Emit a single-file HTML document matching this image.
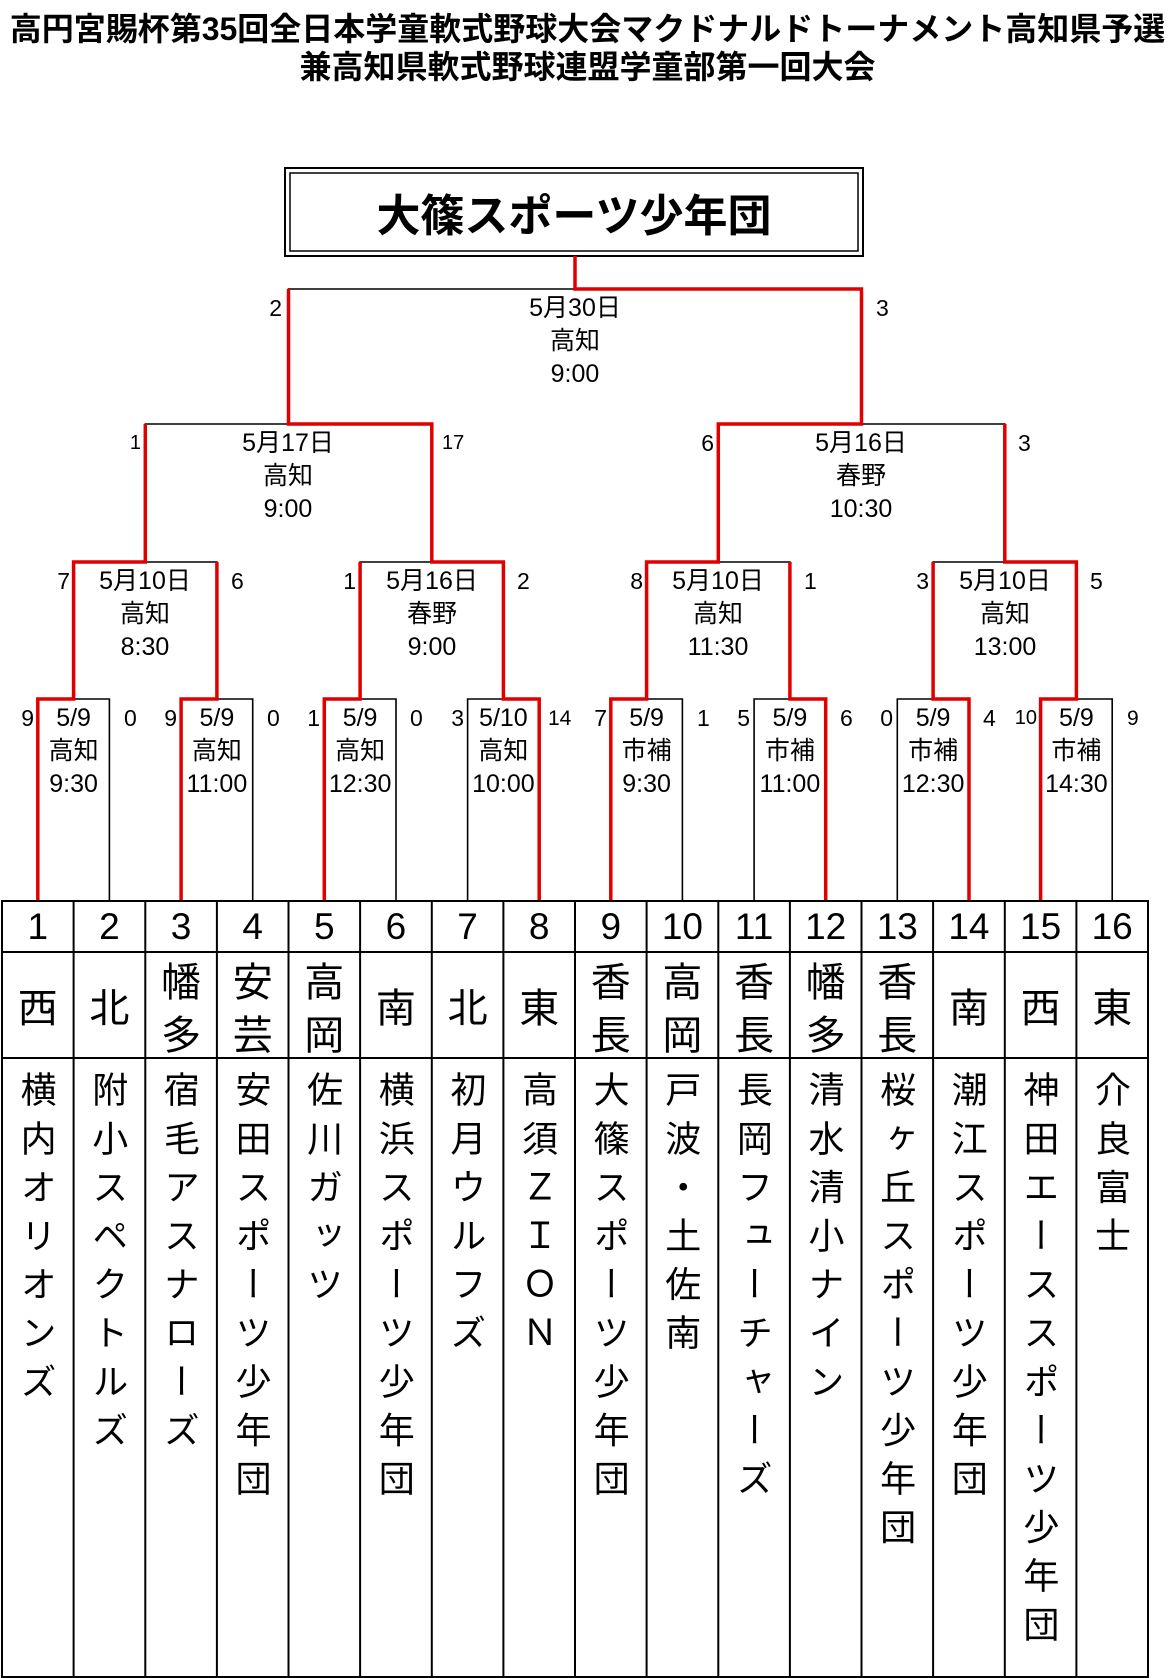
<!DOCTYPE html>
<html><head><meta charset="utf-8">
<style>
html,body{margin:0;padding:0;background:#fff;}
body{width:1175px;height:1678px;position:relative;overflow:hidden;font-family:"Liberation Sans","Noto Sans CJK JP",sans-serif;color:#000;}
.a{position:absolute;white-space:nowrap;}
.title{left:0;width:1175px;text-align:center;font-weight:bold;font-family:"Liberation Sans","Noto Sans CJK JP",sans-serif;}
.m{position:absolute;width:140px;text-align:center;font-size:25px;line-height:33px;white-space:nowrap;}
.sl{position:absolute;width:40px;text-align:right;font-size:23px;line-height:33px;}
.sr{position:absolute;width:40px;text-align:left;font-size:23px;line-height:33px;}
.num{position:absolute;top:901px;width:71.6px;height:51px;line-height:51px;text-align:center;font-size:37px;}
.reg{position:absolute;width:71.6px;text-align:center;font-size:40px;font-family:"Noto Sans CJK JP",sans-serif;}
.tm{position:absolute;top:1071px;width:71.6px;height:600px;writing-mode:vertical-rl;text-orientation:upright;font-size:36px;letter-spacing:12.6px;line-height:71.6px;font-family:"Noto Sans CJK JP",sans-serif;}
</style></head><body>

<div class="a title" style="top:8px;font-size:32px;line-height:42px;">高円宮賜杯第35回全日本学童軟式野球大会マクドナルドトーナメント高知県予選</div>
<div class="a title" style="top:46px;font-size:32px;line-height:42px;">兼高知県軟式野球連盟学童部第一回大会</div>

<svg class="a" style="left:0;top:0" width="1175" height="1678" viewBox="0 0 1175 1678">
<g fill="none" stroke="#000" stroke-width="2">
<rect x="285" y="168" width="578" height="88" stroke-width="2"/>
<rect x="290" y="173" width="568" height="78" stroke-width="1.5"/>
</g>
<g fill="none" stroke="#000" stroke-width="1.6">
<path d="M37.8 901V699H109.4V901"/>
<path d="M181.1 901V699H252.7V901"/>
<path d="M324.3 901V699H396V901"/>
<path d="M467.6 901V699H539.2V901"/>
<path d="M610.8 901V699H682.4V901"/>
<path d="M754.1 901V699H825.7V901"/>
<path d="M897.3 901V699H969V901"/>
<path d="M1040.6 901V699H1112.2V901"/>
<path d="M73.6 699V562H216.9V699"/>
<path d="M360.1 699V562H503.4V699"/>
<path d="M646.6 699V562H789.9V699"/>
<path d="M933.1 699V562H1076.4V699"/>
<path d="M145.3 562V424H431.8V562"/>
<path d="M718.3 562V424H1004.8V562"/>
<path d="M288.5 424V289H861.5V424"/>
</g>
<g fill="none" stroke="#e00000" stroke-width="3.5" stroke-linejoin="miter">
<path d="M37.8 901V699H73.6V562H145.3V424"/>
<path d="M181.1 901V699H216.9V562"/>
<path d="M324.3 901V699H360.1V562"/>
<path d="M539.2 901V699H503.4V562H431.8V424H288.5V289"/>
<path d="M610.8 901V699H646.6V562H718.3V424H861.5V289H575V256"/>
<path d="M825.7 901V699H789.9V562"/>
<path d="M969 901V699H933.1V562"/>
<path d="M1040.6 901V699H1076.4V562H1004.8V424"/>
</g>
<g stroke="#000" stroke-width="2">
<rect x="2" y="901" width="1146" height="776" fill="none"/>
<line x1="2" y1="952" x2="1148" y2="952"/>
<line x1="2" y1="1058" x2="1148" y2="1058"/>
<line x1="73.6" y1="901" x2="73.6" y2="1677"/>
<line x1="145.3" y1="901" x2="145.3" y2="1677"/>
<line x1="216.9" y1="901" x2="216.9" y2="1677"/>
<line x1="288.5" y1="901" x2="288.5" y2="1677"/>
<line x1="360.1" y1="901" x2="360.1" y2="1677"/>
<line x1="431.8" y1="901" x2="431.8" y2="1677"/>
<line x1="503.4" y1="901" x2="503.4" y2="1677"/>
<line x1="575" y1="901" x2="575" y2="1677"/>
<line x1="646.6" y1="901" x2="646.6" y2="1677"/>
<line x1="718.3" y1="901" x2="718.3" y2="1677"/>
<line x1="789.9" y1="901" x2="789.9" y2="1677"/>
<line x1="861.5" y1="901" x2="861.5" y2="1677"/>
<line x1="933.1" y1="901" x2="933.1" y2="1677"/>
<line x1="1004.8" y1="901" x2="1004.8" y2="1677"/>
<line x1="1076.4" y1="901" x2="1076.4" y2="1677"/>
</g>
</svg>

<div class="a" style="left:285px;width:578px;top:168px;height:88px;line-height:88px;text-align:center;font-size:44px;font-weight:bold;font-family:'Noto Sans CJK JP',sans-serif;">大篠スポーツ少年団</div>

<!-- Final -->
<div class="m" style="left:505px;top:292px;">5月30日<br>高知<br>9:00</div>
<div class="sl" style="left:242px;top:292px;">2</div>
<div class="sr" style="left:876px;top:292px;">3</div>

<!-- R3 -->
<div class="m" style="left:218px;top:427px;">5月17日<br>高知<br>9:00</div>
<div class="sl" style="left:101px;top:427px;font-size:20px;">1</div>
<div class="sr" style="left:442px;top:427px;font-size:20px;">17</div>
<div class="m" style="left:791px;top:427px;">5月16日<br>春野<br>10:30</div>
<div class="sl" style="left:674px;top:427px;">6</div>
<div class="sr" style="left:1018px;top:427px;">3</div>

<!-- R2 -->
<div class="m" style="left:75px;top:565px;">5月10日<br>高知<br>8:30</div>
<div class="sl" style="left:30px;top:565px;">7</div>
<div class="sr" style="left:231px;top:565px;">6</div>
<div class="m" style="left:362px;top:565px;">5月16日<br>春野<br>9:00</div>
<div class="sl" style="left:316px;top:565px;">1</div>
<div class="sr" style="left:517px;top:565px;">2</div>
<div class="m" style="left:648px;top:565px;">5月10日<br>高知<br>11:30</div>
<div class="sl" style="left:603px;top:565px;">8</div>
<div class="sr" style="left:804px;top:565px;">1</div>
<div class="m" style="left:935px;top:565px;">5月10日<br>高知<br>13:00</div>
<div class="sl" style="left:889px;top:565px;">3</div>
<div class="sr" style="left:1090px;top:565px;">5</div>

<!-- R1 -->
<div class="m" style="left:3.6px;top:702px;">5/9<br>高知<br>9:30</div>
<div class="sl" style="left:-6px;top:702px;">9</div>
<div class="sr" style="left:124px;top:702px;">0</div>
<div class="m" style="left:146.9px;top:702px;">5/9<br>高知<br>11:00</div>
<div class="sl" style="left:137px;top:702px;">9</div>
<div class="sr" style="left:267px;top:702px;">0</div>
<div class="m" style="left:290.1px;top:702px;">5/9<br>高知<br>12:30</div>
<div class="sl" style="left:280px;top:702px;">1</div>
<div class="sr" style="left:410px;top:702px;">0</div>
<div class="m" style="left:433.4px;top:702px;">5/10<br>高知<br>10:00</div>
<div class="sl" style="left:424px;top:702px;">3</div>
<div class="sr" style="left:548px;top:702px;font-size:21px;">14</div>
<div class="m" style="left:576.6px;top:702px;">5/9<br>市補<br>9:30</div>
<div class="sl" style="left:567px;top:702px;">7</div>
<div class="sr" style="left:697px;top:702px;">1</div>
<div class="m" style="left:719.9px;top:702px;">5/9<br>市補<br>11:00</div>
<div class="sl" style="left:710px;top:702px;">5</div>
<div class="sr" style="left:840px;top:702px;">6</div>
<div class="m" style="left:863.1px;top:702px;">5/9<br>市補<br>12:30</div>
<div class="sl" style="left:853px;top:702px;">0</div>
<div class="sr" style="left:983px;top:702px;">4</div>
<div class="m" style="left:1006.4px;top:702px;">5/9<br>市補<br>14:30</div>
<div class="sl" style="left:997px;top:702px;font-size:20px;">10</div>
<div class="sr" style="left:1127px;top:702px;font-size:21px;">9</div>

<!-- Table numbers -->
<div class="num" style="left:2px;">1</div>
<div class="num" style="left:73.6px;">2</div>
<div class="num" style="left:145.3px;">3</div>
<div class="num" style="left:216.9px;">4</div>
<div class="num" style="left:288.5px;">5</div>
<div class="num" style="left:360.1px;">6</div>
<div class="num" style="left:431.8px;">7</div>
<div class="num" style="left:503.4px;">8</div>
<div class="num" style="left:575px;">9</div>
<div class="num" style="left:646.6px;">10</div>
<div class="num" style="left:718.3px;">11</div>
<div class="num" style="left:789.9px;">12</div>
<div class="num" style="left:861.5px;">13</div>
<div class="num" style="left:933.1px;">14</div>
<div class="num" style="left:1004.8px;">15</div>
<div class="num" style="left:1076.4px;">16</div>

<!-- Regions -->
<div class="reg" style="left:2px;top:952px;line-height:106px;">西</div>
<div class="reg" style="left:73.6px;top:952px;line-height:106px;">北</div>
<div class="reg" style="left:145.3px;top:953px;line-height:53px;">幡<br>多</div>
<div class="reg" style="left:216.9px;top:953px;line-height:53px;">安<br>芸</div>
<div class="reg" style="left:288.5px;top:953px;line-height:53px;">高<br>岡</div>
<div class="reg" style="left:360.1px;top:952px;line-height:106px;">南</div>
<div class="reg" style="left:431.8px;top:952px;line-height:106px;">北</div>
<div class="reg" style="left:503.4px;top:952px;line-height:106px;">東</div>
<div class="reg" style="left:575px;top:953px;line-height:53px;">香<br>長</div>
<div class="reg" style="left:646.6px;top:953px;line-height:53px;">高<br>岡</div>
<div class="reg" style="left:718.3px;top:953px;line-height:53px;">香<br>長</div>
<div class="reg" style="left:789.9px;top:953px;line-height:53px;">幡<br>多</div>
<div class="reg" style="left:861.5px;top:953px;line-height:53px;">香<br>長</div>
<div class="reg" style="left:933.1px;top:952px;line-height:106px;">南</div>
<div class="reg" style="left:1004.8px;top:952px;line-height:106px;">西</div>
<div class="reg" style="left:1076.4px;top:952px;line-height:106px;">東</div>

<!-- Team names -->
<div class="tm" style="left:2px;">横内オリオンズ</div>
<div class="tm" style="left:73.6px;">附小スペクトルズ</div>
<div class="tm" style="left:145.3px;">宿毛アスナローズ</div>
<div class="tm" style="left:216.9px;">安田スポーツ少年団</div>
<div class="tm" style="left:288.5px;">佐川ガッツ</div>
<div class="tm" style="left:360.1px;">横浜スポーツ少年団</div>
<div class="tm" style="left:431.8px;">初月ウルフズ</div>
<div class="tm" style="left:503.4px;">高須ＺＩＯＮ</div>
<div class="tm" style="left:575px;">大篠スポーツ少年団</div>
<div class="tm" style="left:646.6px;">戸波・土佐南</div>
<div class="tm" style="left:718.3px;">長岡フューチャーズ</div>
<div class="tm" style="left:789.9px;">清水清小ナイン</div>
<div class="tm" style="left:861.5px;">桜ヶ丘スポーツ少年団</div>
<div class="tm" style="left:933.1px;">潮江スポーツ少年団</div>
<div class="tm" style="left:1004.8px;">神田エーススポーツ少年団</div>
<div class="tm" style="left:1076.4px;">介良富士</div>

</body></html>
